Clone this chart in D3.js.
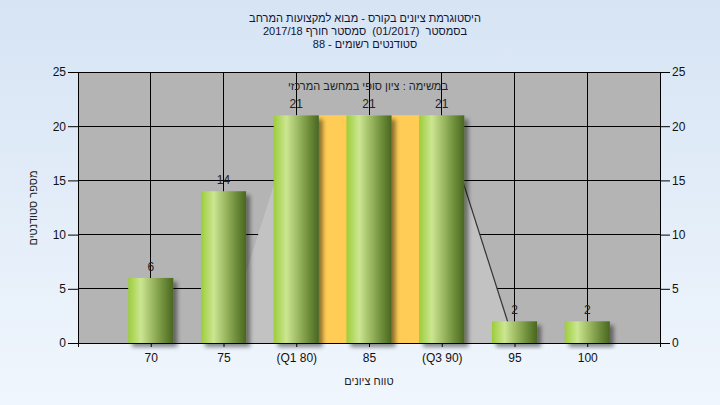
<!DOCTYPE html>
<html><head><meta charset="utf-8">
<script src="https://cdn.jsdelivr.net/npm/d3@7"></script>
<style>html,body{margin:0;padding:0;}svg{display:block;font-family:"Liberation Sans",Arial,sans-serif;}</style>
</head><body>
<svg id="c" width="720" height="405"></svg>
<script>
const categories = ["70","75","(Q1 80)","85","(Q3 90)","95","100"];
const counts = [6,14,21,21,21,2,2];
const yTicks = [0,5,10,15,20,25];
const titleLines = ["היסטוגרמת ציונים בקורס - מבוא למקצועות המרחב","בסמסטר  (01/2017)  סמסטר חורף 2017/18","סטודנטים רשומים - 88"];
const legendText = "במשימה : ציון סופי במחשב המרכזי";
const xTitle = "טווח ציונים";
const yTitle = "מספר סטודנטים";
// light area behind the bars (category index, value)
const areaPts = [[1,0],[2,21],[3,21],[4,21],[5,0]];
const iqr = [2,4];

const svg = d3.select("#c");
const W=720,H=405;
const L=78,R=660,T=72,B=343;
const defs = svg.append("defs");
const bg = defs.append("linearGradient").attr("id","bg").attr("x1",0).attr("y1",0).attr("x2",0).attr("y2",1);
bg.append("stop").attr("offset","0%").attr("stop-color","#d6e4f4");
bg.append("stop").attr("offset","100%").attr("stop-color","#f0f6fd");
const bar = defs.append("linearGradient").attr("id","bar").attr("x1",0).attr("y1",0).attr("x2",1).attr("y2",0);
[["0%","#9ccd3a"],["28%","#cce692"],["50%","#a3bf68"],["80%","#6a8a38"],["100%","#4a6620"]].forEach(s=>bar.append("stop").attr("offset",s[0]).attr("stop-color",s[1]));
const f = defs.append("filter").attr("id","sh").attr("x","-20%").attr("y","-20%").attr("width","150%").attr("height","150%");
f.append("feDropShadow").attr("dx",4).attr("dy",4).attr("stdDeviation",2).attr("flood-color","#000").attr("flood-opacity",0.45);

svg.append("rect").attr("width",W).attr("height",H).attr("fill","url(#bg)");

const x = d3.scaleLinear().domain([0,categories.length+1]).range([L,R]);
const y = d3.scaleLinear().domain([0,25]).range([B,T]);
const step = x(1)-x(0);
const bw = step*0.62;

svg.append("rect").attr("x",L).attr("y",T).attr("width",R-L).attr("height",B-T).attr("fill","#b4b4b4");
// grid
svg.append("g").selectAll("line").data(yTicks).join("line")
  .attr("x1",L).attr("x2",R).attr("y1",d=>y(d)).attr("y2",d=>y(d)).attr("stroke","#000").attr("stroke-width",1).attr("shape-rendering","crispEdges");
svg.append("g").selectAll("line").data(categories).join("line")
  .attr("x1",(d,i)=>x(i+1)).attr("x2",(d,i)=>x(i+1)).attr("y1",T).attr("y2",B).attr("stroke","#000").attr("stroke-width",1).attr("shape-rendering","crispEdges");

// light area
svg.append("path").datum(areaPts)
  .attr("d",d3.line().x(d=>x(d[0]+1)).y(d=>y(d[1])))
  .attr("fill","#c2c2c2").attr("stroke","none");
svg.append("path").datum(areaPts.slice(3))
  .attr("d",d3.line().x(d=>x(d[0]+1)).y(d=>y(d[1])))
  .attr("fill","none").attr("stroke","#333").attr("stroke-width",1.2);

// IQR highlight
svg.append("rect").attr("x",x(iqr[0]+1)+bw/2).attr("width",x(iqr[1]+1)-x(iqr[0]+1)-bw)
  .attr("y",y(21)).attr("height",y(0)-y(21)).attr("fill","#ffcc55");

// bars
svg.append("g").selectAll("rect").data(counts).join("rect")
  .attr("x",(d,i)=>x(i+1)-bw/2).attr("width",bw)
  .attr("y",d=>y(d)).attr("height",d=>y(0)-y(d))
  .attr("fill","url(#bar)").attr("filter","url(#sh)");

// value labels
svg.append("g").selectAll("text").data(counts).join("text")
  .attr("x",(d,i)=>x(i+1)).attr("y",d=>y(d)-7)
  .attr("text-anchor","middle").attr("font-size",12).attr("fill","#222").text(d=>d);

// axes
const ax = "#000";
svg.append("line").attr("x1",L).attr("x2",L).attr("y1",T).attr("y2",B+4).attr("stroke",ax).attr("shape-rendering","crispEdges");
svg.append("line").attr("x1",R).attr("x2",R).attr("y1",T).attr("y2",B+4).attr("stroke",ax).attr("shape-rendering","crispEdges");
svg.append("line").attr("x1",L).attr("x2",R).attr("y1",B).attr("y2",B).attr("stroke",ax).attr("shape-rendering","crispEdges");
const yl = svg.append("g").attr("transform",`translate(${L},0)`).call(d3.axisLeft(y).tickValues(yTicks).tickSize(10).tickPadding(2));
const yr = svg.append("g").attr("transform",`translate(${R},0)`).call(d3.axisRight(y).tickValues(yTicks).tickSize(10).tickPadding(2));
const xa = svg.append("g").attr("transform",`translate(0,${B})`).call(d3.axisBottom(x).tickValues(d3.range(1,categories.length+1)).tickFormat(i=>categories[i-1]).tickSize(4).tickPadding(6));
[yl,yr,xa].forEach(g=>{g.select(".domain").remove();g.selectAll("text").attr("font-size",12).attr("fill","#111").attr("font-family","Liberation Sans, Arial, sans-serif");g.selectAll("line").attr("stroke","#000");});
xa.selectAll("text").attr("direction","ltr");

// titles
svg.append("g").selectAll("text").data(titleLines).join("text")
  .attr("x",365).attr("y",(d,i)=>22+i*13).attr("text-anchor","middle").attr("direction","rtl")
  .style("white-space","pre")
  .attr("font-size",11).attr("fill","#141430").text(d=>d);
svg.append("text").attr("x",368).attr("y",90).attr("text-anchor","middle").attr("direction","rtl")
  .attr("font-size",11).attr("fill","#222").text(legendText);
svg.append("text").attr("x",369).attr("y",385).attr("text-anchor","middle").attr("direction","rtl")
  .attr("font-size",11).attr("fill","#222").text(xTitle);
svg.append("text").attr("transform","translate(37,208) rotate(-90)").attr("text-anchor","middle").attr("direction","rtl")
  .attr("font-size",11).attr("fill","#222").text(yTitle);
</script>
</body></html>
